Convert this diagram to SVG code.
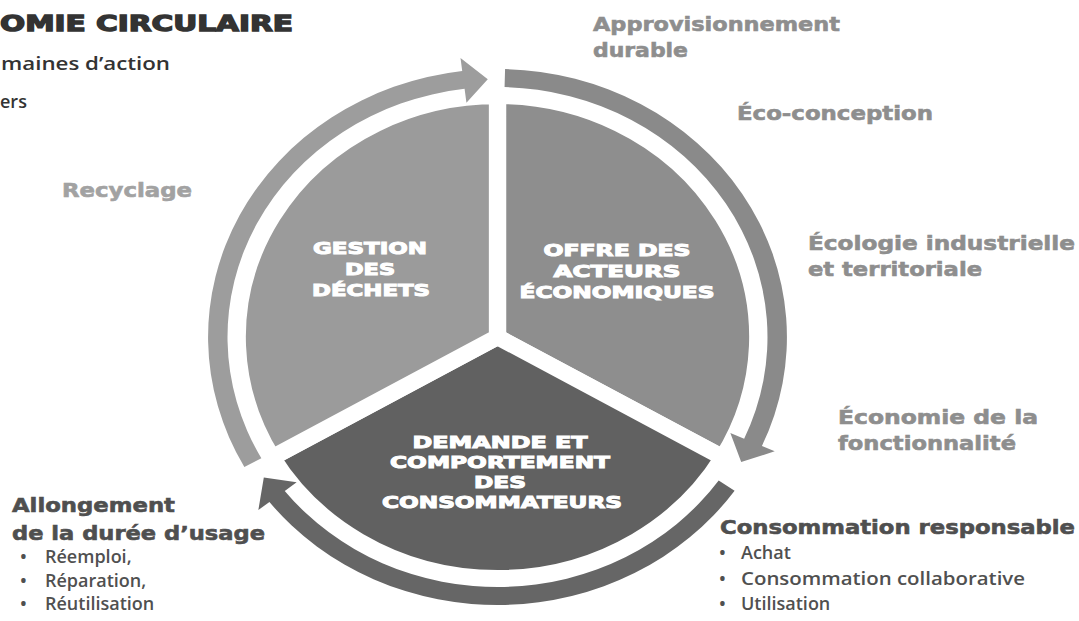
<svg xmlns="http://www.w3.org/2000/svg" width="1079" height="621" viewBox="0 0 1079 621">
<style>
.h{font-family:"DejaVu Sans","Liberation Sans",sans-serif;font-weight:bold}
.lg{fill:#8e8e8e;stroke:#8e8e8e;stroke-width:0.6;font-size:20px}
.dk{fill:#4f4f4f;stroke:#4f4f4f;stroke-width:0.6;font-size:20px}
.b{font-family:"Open Sans","Liberation Sans",sans-serif;font-weight:600;fill:#505050;font-size:18px}
.seg{font-family:"DejaVu Sans","Liberation Sans",sans-serif;font-weight:bold;fill:#ffffff;stroke:#ffffff;stroke-width:1;font-size:16px;text-anchor:middle}
.wedge{stroke:#ffffff;stroke-width:16;stroke-linejoin:miter}
</style>
<rect width="1079" height="621" fill="#ffffff"/>

<g id="title">
<text class="h" x="0" y="31" font-size="22" fill="#333333" stroke="#333333" stroke-width="1.4" textLength="293" lengthAdjust="spacingAndGlyphs">OMIE CIRCULAIRE</text>
<text x="1" y="70" font-family="'Open Sans','Liberation Sans',sans-serif" font-weight="600" font-size="18" fill="#333333" textLength="169" lengthAdjust="spacingAndGlyphs">maines d’action</text>
<text x="0" y="108" font-family="'Open Sans','Liberation Sans',sans-serif" font-weight="600" font-size="18" fill="#333333">ers</text>
</g>

<g id="circle" transform="translate(497.5,337) scale(1.08,1)">
<g id="node-offre">
<path class="wedge" fill="#8e8e8e" d="M0 0 L0 -241 A241 241 0 0 1 208.71 120.5 Z"/>
</g>
<g id="node-demande">
<path class="wedge" fill="#616161" d="M0 0 L208.71 120.5 A241 241 0 0 1 -208.71 120.5 Z"/>
</g>
<g id="node-gestion">
<path class="wedge" fill="#9b9b9b" d="M0 0 L-208.71 120.5 A241 241 0 0 1 0 -241 Z"/>
</g>
<g id="connectors">
<path id="arrow-gestion" fill="#9d9d9d" d="M-234.39 129.93 A268 268 0 0 1 -32.67 -265.99 L-34.25 -278.89 L-9.0 -257.84 L-28.77 -234.23 L-30.48 -248.13 A250 250 0 0 0 -218.65 121.2 Z"/>
<path id="arrow-offre" fill="#8a8a8a" d="M7.02 -267.91 A268 268 0 0 1 244.82 109.0 L256.69 114.28 L225.65 125.08 L215.59 95.98 L228.38 101.68 A250 250 0 0 0 6.54 -249.91 Z"/>
<path id="arrow-demande" fill="#666666" d="M219.54 153.72 A268 268 0 0 1 -211.18 165.01 L-221.43 173.01 L-216.38 140.51 L-185.97 145.31 L-197.0 153.93 A250 250 0 0 0 204.8 143.4 Z"/>
</g>
</g>

<g id="label-gestion">
<text class="seg" x="370" y="254" textLength="114" lengthAdjust="spacingAndGlyphs">GESTION</text>
<text class="seg" x="370" y="275" textLength="50" lengthAdjust="spacingAndGlyphs">DES</text>
<text class="seg" x="371" y="296" textLength="118" lengthAdjust="spacingAndGlyphs">DÉCHETS</text>
</g>
<g id="label-offre">
<text class="seg" x="617" y="256" textLength="147" lengthAdjust="spacingAndGlyphs">OFFRE DES</text>
<text class="seg" x="617" y="277" textLength="127" lengthAdjust="spacingAndGlyphs">ACTEURS</text>
<text class="seg" x="617" y="298" textLength="195" lengthAdjust="spacingAndGlyphs">ÉCONOMIQUES</text>
</g>
<g id="label-demande">
<text class="seg" x="500" y="448" textLength="175" lengthAdjust="spacingAndGlyphs">DEMANDE ET</text>
<text class="seg" x="500" y="468" textLength="220" lengthAdjust="spacingAndGlyphs">COMPORTEMENT</text>
<text class="seg" x="500" y="488" textLength="52" lengthAdjust="spacingAndGlyphs">DES</text>
<text class="seg" x="502" y="508" textLength="240" lengthAdjust="spacingAndGlyphs">CONSOMMATEURS</text>
</g>

<g id="labels-right">
<text class="h lg" x="593" y="31" textLength="247" lengthAdjust="spacingAndGlyphs">Approvisionnement</text>
<text class="h lg" x="593" y="57" textLength="95" lengthAdjust="spacingAndGlyphs">durable</text>
<text class="h lg" x="737" y="120" textLength="196" lengthAdjust="spacingAndGlyphs">Éco-conception</text>
<text class="h lg" x="808" y="250" textLength="267" lengthAdjust="spacingAndGlyphs">Écologie industrielle</text>
<text class="h lg" x="808" y="276" textLength="174" lengthAdjust="spacingAndGlyphs">et territoriale</text>
<text class="h lg" x="838" y="424" textLength="200" lengthAdjust="spacingAndGlyphs">Économie de la</text>
<text class="h lg" x="838" y="450" textLength="178" lengthAdjust="spacingAndGlyphs">fonctionnalité</text>
</g>

<g id="label-recyclage">
<text class="h" x="62" y="197" font-size="19" fill="#a2a2a2" stroke="#a2a2a2" stroke-width="0.6" textLength="130" lengthAdjust="spacingAndGlyphs">Recyclage</text>
</g>

<g id="label-allongement">
<text class="h dk" x="12" y="512" textLength="163" lengthAdjust="spacingAndGlyphs">Allongement</text>
<text class="h dk" x="12" y="540" textLength="253" lengthAdjust="spacingAndGlyphs">de la durée d’usage</text>
<text class="b" x="20" y="563">•</text><text class="b" x="45" y="563">Réemploi,</text>
<text class="b" x="20" y="587">•</text><text class="b" x="45" y="587">Réparation,</text>
<text class="b" x="20" y="610">•</text><text class="b" x="45" y="610">Réutilisation</text>
</g>

<g id="label-consommation">
<text class="h dk" x="720" y="534" textLength="355" lengthAdjust="spacingAndGlyphs">Consommation responsable</text>
<text class="b" x="719" y="559">•</text><text class="b" x="741" y="559">Achat</text>
<text class="b" x="719" y="585">•</text><text class="b" x="741" y="585" textLength="284" lengthAdjust="spacingAndGlyphs">Consommation collaborative</text>
<text class="b" x="719" y="610">•</text><text class="b" x="741" y="610">Utilisation</text>
</g>
</svg>
